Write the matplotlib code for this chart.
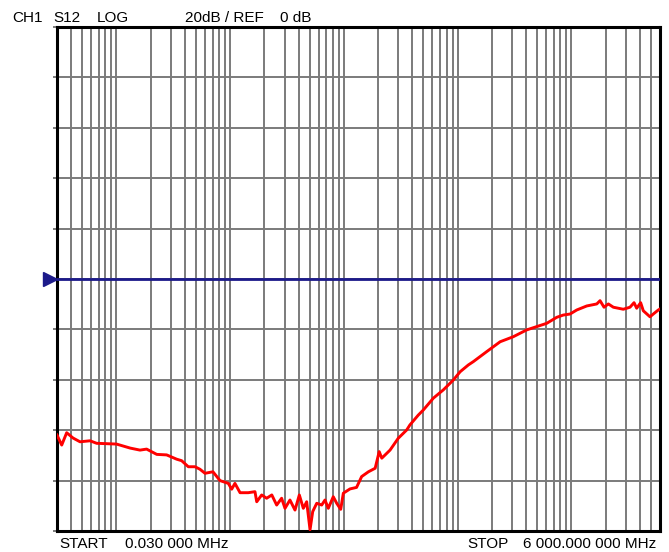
import matplotlib
matplotlib.use('Agg')
import matplotlib.pyplot as plt
import numpy as np

plt.rcParams['font.family'] = ['Liberation Sans', 'DejaVu Sans']

# --- trace data (MHz, dB) ---
freq_mhz = [
    0.030, 0.033, 0.0365, 0.0415, 0.0478, 0.0585, 0.067, 0.100, 0.132, 0.161,
    0.184, 0.226, 0.276, 0.338, 0.374, 0.428, 0.490, 0.542, 0.600, 0.705,
    0.813, 0.962, 1.03, 1.10, 1.22, 1.44, 1.65, 1.71, 1.89, 2.09,
    2.32, 2.56, 2.83, 3.03, 3.35, 3.71, 4.05, 4.39, 4.70, 5.03,
    5.31, 5.76, 6.37, 6.81, 7.28, 8.05, 8.63, 9.36, 9.87, 11.3,
    12.9, 14.3, 16.4, 18.8, 20.4, 21.5, 25.4, 30.0, 35.6, 38.0,
    45.0, 49.8, 61.0, 74.7, 91.4, 105, 124, 137, 180, 236,
    308, 404, 494, 605, 742, 848, 971, 1112, 1362, 1668,
    1783, 1933, 2109, 2334, 2853, 3268, 3547, 3743, 4056, 4278,
    4900, 5238, 5796, 6000,
]
s12_db = [
    -61.9, -65.9, -61.0, -63.1, -64.6, -64.2, -65.2, -65.5, -67.1, -67.9,
    -67.5, -69.6, -69.8, -71.5, -72.1, -74.5, -74.5, -75.5, -77.1, -76.5,
    -80.0, -81.1, -83.4, -81.1, -84.8, -84.8, -84.4, -88.4, -85.7, -87.0,
    -85.7, -89.7, -87.0, -91.0, -87.7, -91.7, -85.7, -91.0, -88.4, -99.5,
    -92.3, -89.0, -89.7, -87.7, -91.0, -86.4, -89.0, -91.4, -85.0, -83.3,
    -82.7, -78.4, -76.5, -75.1, -68.5, -71.1, -67.9, -63.2, -59.9, -57.9,
    -54.0, -52.0, -47.3, -44.0, -40.1, -36.8, -34.1, -32.8, -28.8, -24.9,
    -22.9, -20.2, -18.9, -17.6, -15.2, -14.3, -13.9, -12.3, -10.7, -9.9,
    -8.6, -11.2, -9.9, -11.2, -12.0, -11.2, -9.4, -11.6, -9.4, -12.6,
    -15.0, -13.9, -12.3, -11.9,
]

start_mhz = 0.03
stop_mhz = 6000
ref_db = 0
scale_db = 20

fig = plt.figure(figsize=(6.69, 5.52), dpi=100)
ax = fig.add_axes([57 / 669, 21 / 552, 603 / 669, 504 / 552])

ax.set_xscale('log')
ax.set_xlim(start_mhz, stop_mhz)
ax.set_ylim(ref_db - 5 * scale_db, ref_db + 5 * scale_db)
ax.set_yticks(np.arange(-5, 6) * scale_db + ref_db)

GRID = '#7b7b7b'
ax.grid(which='both', axis='x', color=GRID, linewidth=1.4)
ax.grid(which='major', axis='y', color=GRID, linewidth=1.4)
ax.tick_params(axis='x', which='both', length=0, labelbottom=False)
ax.tick_params(axis='y', length=3, width=1.4, color=GRID, labelleft=False)
ax.set_axisbelow(True)

for side in ['top', 'bottom', 'left', 'right']:
    ax.spines[side].set_color('black')
    ax.spines[side].set_linewidth(2.2)

# reference line + marker
NAVY = '#1c1a8a'
ax.axhline(ref_db, color=NAVY, linewidth=2.0, zorder=3)
ax.plot([-0.012], [ref_db], marker='>', color=NAVY, markersize=10,
        transform=ax.get_yaxis_transform(), clip_on=False, zorder=4)

# trace
ax.plot(freq_mhz, s12_db, color='#ff0000', linewidth=2.1, zorder=5)

# annotation text
fig.text(12 / 669, 1 - 18 / 552, 'CH1', fontsize=11, va='center')
fig.text(53 / 669, 1 - 18 / 552, 'S12', fontsize=11, va='center')
fig.text(97 / 669, 1 - 18 / 552, 'LOG', fontsize=11, va='center')
fig.text(185 / 669, 1 - 18 / 552, '20dB / REF', fontsize=11, va='center')
fig.text(280 / 669, 1 - 18 / 552, '0 dB', fontsize=11, va='center')
fig.text(59 / 669, 1 - 544 / 552, 'START', fontsize=11, va='center')
fig.text(125 / 669, 1 - 544 / 552, '0.030 000 MHz', fontsize=11, va='center')
fig.text(467 / 669, 1 - 544 / 552, 'STOP', fontsize=11, va='center')
fig.text(523 / 669, 1 - 544 / 552, '6 000.000 000 MHz', fontsize=11, va='center')

fig.savefig('out.png', dpi=100)
